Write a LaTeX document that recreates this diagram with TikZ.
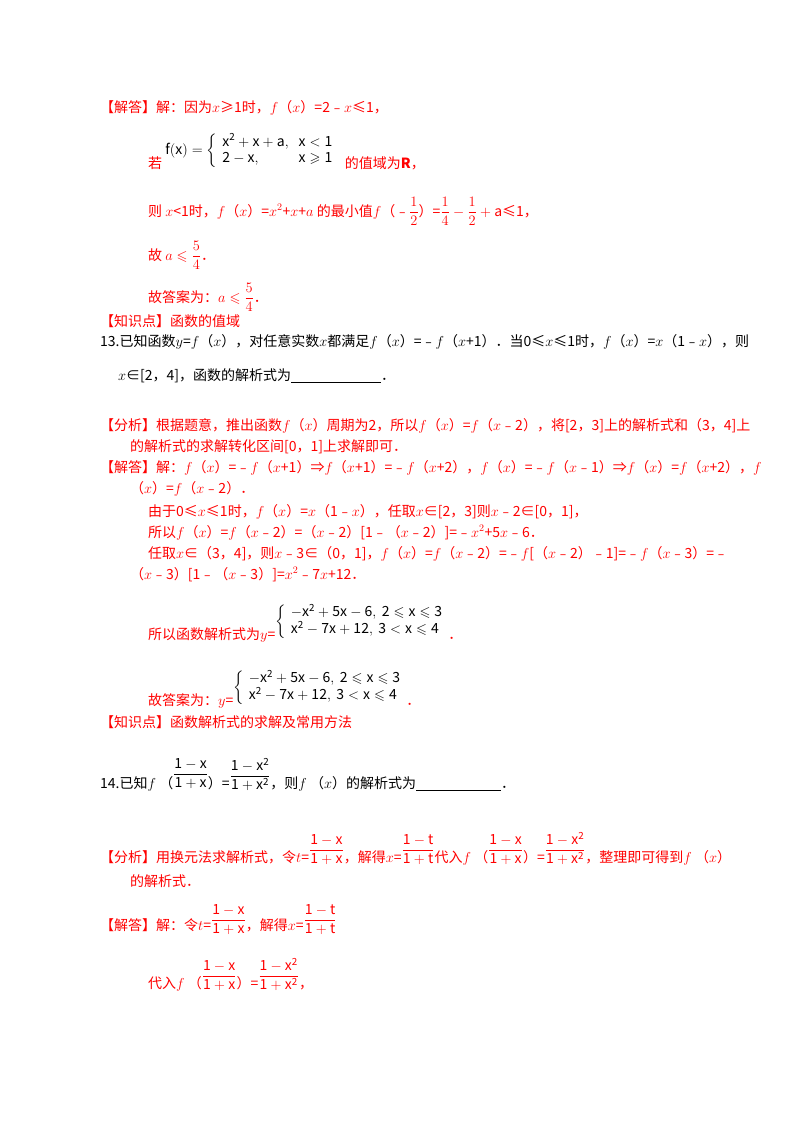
\documentclass[tikz,border=0pt]{standalone}
\usepackage{fontspec}
\usepackage{amsmath,amssymb}
\setmainfont{Noto Sans CJK SC}
\begin{document}
\begin{tikzpicture}[x=1pt,y=-1pt,
 t/.style={anchor=base west,inner sep=0pt,font=\fontsize{14}{16}\selectfont},
 r/.style={t,text=red}]
\useasboundingbox (0,0) rectangle (800,1132);
\fill[white] (0,0) rectangle (800,1132);
\node[r] (a1) at (100,112) {【解答】解：因为$x$≥1时，$f$（$x$）=2﹣$x$≤1，};
\node[r] (a2) at (148,168) {若\ \raisebox{14pt}{\textcolor{black}{$\mathrm{f(x)}=\left\{\begin{array}{ll}\mathrm{x^2+x+a,} & \mathrm{x<1}\\ \mathrm{2-x,} & \mathrm{x\geqslant 1}\end{array}\right.$}}\ \ 的值域为\textbf{R}，};
\node[r] (a3) at (148,216) {则 $x$<1时，$f$（$x$）=$x^2$+$x$+$a$ 的最小值$f$（﹣$\dfrac{1}{2}$）=$\dfrac14-\dfrac12+\mathrm{a}$≤1，};
\node[r] (a4) at (148,260) {故 $a\leqslant\dfrac54$．};
\node[r] (a5) at (148,302) {故答案为：$a\leqslant\dfrac54$．};
\node[r] (a6) at (100,326) {【知识点】函数的值域};
\node[t] (q1) at (100,346) {13.已知函数$y$=$f$（$x$），对任意实数$x$都满足$f$（$x$）=﹣$f$（$x$+1）．当0≤$x$≤1时，$f$（$x$）=$x$（1﹣$x$），则};
\node[t] (q2) at (118,380) {$x$∈[2，4]，函数的解析式为\underline{\hspace{90pt}}．};
\node[r] (b1) at (100,430) {【分析】根据题意，推出函数$f$（$x$）周期为2，所以$f$（$x$）=$f$（$x$﹣2），将[2，3]上的解析式和（3，4]上};
\node[r] (b2) at (130,451) {的解析式的求解转化区间[0，1]上求解即可．};
\node[r] (b3) at (100,472) {【解答】解：$f$（$x$）=﹣$f$（$x$+1）⇒$f$（$x$+1）=﹣$f$（$x$+2），$f$（$x$）=﹣$f$（$x$﹣1）⇒$f$（$x$）=$f$（$x$+2），$f$};
\node[r] (b4) at (130,493) {（$x$）=$f$（$x$﹣2）．};
\node[r] (b5) at (148,516) {由于0≤$x$≤1时，$f$（$x$）=$x$（1﹣$x$），任取$x$∈[2，3]则$x$﹣2∈[0，1]，};
\node[r] (b6) at (148,537) {所以$f$（$x$）=$f$（$x$﹣2）=（$x$﹣2）[1﹣（$x$﹣2）]=﹣$x^2$+5$x$﹣6．};
\node[r] (b7) at (148,558) {任取$x$∈（3，4]，则$x$﹣3∈（0，1]，$f$（$x$）=$f$（$x$﹣2）=﹣$f$[（$x$﹣2）﹣1]=﹣$f$（$x$﹣3）=﹣};
\node[r] (b8) at (130,579) {（$x$﹣3）[1﹣（$x$﹣3）]=$x^2$﹣7$x$+12．};
\node[r] (b9) at (148,639) {所以函数解析式为$y$=\raisebox{14pt}{\textcolor{black}{$\left\{\begin{array}{l}\mathrm{-x^2+5x-6,\ 2\leqslant x\leqslant 3}\\ \mathrm{x^2-7x+12,\ 3<x\leqslant 4}\end{array}\right.$}}．};
\node[r] (b10) at (148,705) {故答案为：$y$=\raisebox{14pt}{\textcolor{black}{$\left\{\begin{array}{l}\mathrm{-x^2+5x-6,\ 2\leqslant x\leqslant 3}\\ \mathrm{x^2-7x+12,\ 3<x\leqslant 4}\end{array}\right.$}}．};
\node[r] (b11) at (100,727) {【知识点】函数解析式的求解及常用方法};
\node[t] (q3) at (100,788) {14.已知$f$ （\raisebox{10pt}{$\dfrac{\mathrm{1-x}}{\mathrm{1+x}}$}）=\raisebox{8pt}{$\dfrac{\mathrm{1-x^2}}{\mathrm{1+x^2}}$}，则$f$ （$x$）的解析式为\underline{\hspace{85pt}}．};
\node[r] (c1) at (100,862) {【分析】用换元法求解析式，令$t$=\raisebox{8pt}{$\dfrac{\mathrm{1-x}}{\mathrm{1+x}}$}，解得$x$=\raisebox{8pt}{$\dfrac{\mathrm{1-t}}{\mathrm{1+t}}$}代入$f$ （\raisebox{8pt}{$\dfrac{\mathrm{1-x}}{\mathrm{1+x}}$}）=\raisebox{8pt}{$\dfrac{\mathrm{1-x^2}}{\mathrm{1+x^2}}$}，整理即可得到$f$ （$x$）};
\node[r] (c2) at (130,886) {的解析式．};
\node[r] (c3) at (100,930) {【解答】解：令$t$=\raisebox{6pt}{$\dfrac{\mathrm{1-x}}{\mathrm{1+x}}$}，解得$x$=\raisebox{6pt}{$\dfrac{\mathrm{1-t}}{\mathrm{1+t}}$}};
\node[r] (c4) at (148,988) {代入$f$ （\raisebox{8pt}{$\dfrac{\mathrm{1-x}}{\mathrm{1+x}}$}）=\raisebox{8pt}{$\dfrac{\mathrm{1-x^2}}{\mathrm{1+x^2}}$}，};
\end{tikzpicture}
\end{document}
